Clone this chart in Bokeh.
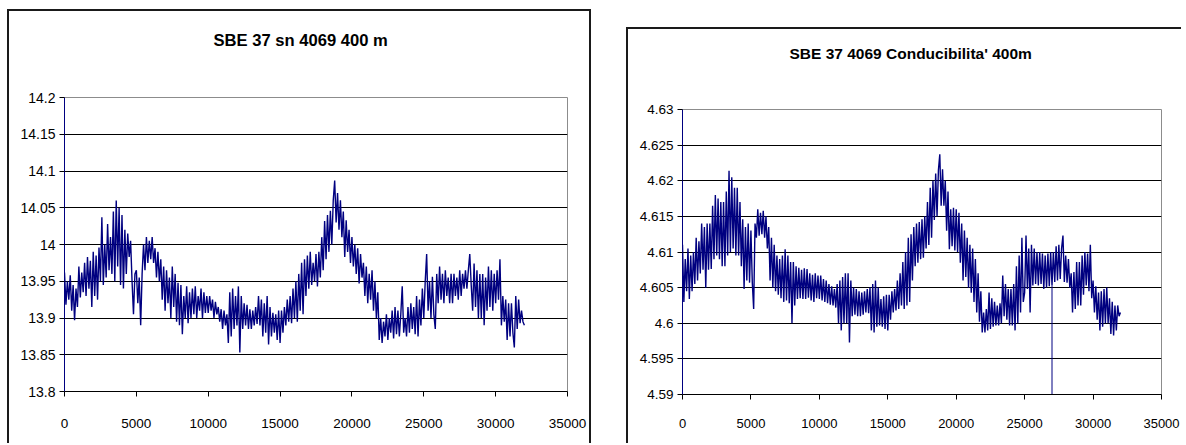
import numpy as np
from bokeh.plotting import figure
from bokeh.layouts import row
from bokeh.models import FixedTicker, Range1d, Title
from bokeh.embed import file_html
from bokeh.resources import INLINE

# Sample number axis: one reading every 100 samples, 0 .. 32000
samples = np.arange(0, 32001, 100)

# Temperature record, SBE 37 sn 4069 at 400 m (one row per 1000 samples)
temperature = [
    13.962, 13.918, 13.950, 13.925, 13.958, 13.910, 13.945, 13.897, 13.940, 13.915,
    13.970, 13.928, 13.962, 13.935, 13.975, 13.930, 13.983, 13.940, 13.978, 13.915,
    13.990, 13.930, 13.985, 13.925, 13.996, 13.950, 14.037, 13.945, 14.000, 13.955,
    14.028, 13.965, 14.010, 13.960, 14.045, 13.950, 14.060, 13.970, 14.050, 13.945,
    14.040, 13.940, 14.020, 13.960, 14.015, 13.983, 14.005, 13.950, 13.905, 13.960,
    13.965, 13.920, 13.955, 13.890, 13.960, 14.000, 13.965, 14.010, 13.975, 14.005,
    13.980, 14.010, 13.975, 13.995, 13.955, 13.990, 13.950, 13.980, 13.925, 13.970,
    13.910, 13.965, 13.920, 13.955, 13.900, 13.970, 13.915, 13.960, 13.895, 13.948,
    13.890, 13.945, 13.878, 13.930, 13.900, 13.943, 13.893, 13.935, 13.900, 13.940,
    13.905, 13.943, 13.900, 13.930, 13.910, 13.940, 13.900, 13.935, 13.907, 13.930,
    13.907, 13.930, 13.910, 13.925, 13.900, 13.922, 13.905, 13.915, 13.895, 13.912,
    13.885, 13.910, 13.890, 13.905, 13.866, 13.935, 13.875, 13.940, 13.885, 13.930,
    13.890, 13.943, 13.853, 13.930, 13.885, 13.920, 13.890, 13.918, 13.885, 13.912,
    13.885, 13.910, 13.890, 13.915, 13.892, 13.930, 13.890, 13.925, 13.875, 13.920,
    13.880, 13.930, 13.864, 13.915, 13.875, 13.907, 13.880, 13.905, 13.870, 13.910,
    13.866, 13.910, 13.880, 13.915, 13.890, 13.925, 13.895, 13.930, 13.893, 13.940,
    13.900, 13.950, 13.895, 13.960, 13.910, 13.975, 13.905, 13.980, 13.930, 13.985,
    13.940, 13.990, 13.945, 13.975, 13.950, 13.987, 13.943, 13.990, 13.955, 14.010,
    13.965, 14.032, 13.980, 14.040, 13.990, 14.046, 14.000, 14.060, 14.087, 14.030,
    14.070, 14.020, 14.060, 14.010, 14.045, 13.983, 14.033, 13.990, 14.020, 13.975,
    14.010, 13.970, 14.000, 13.960, 13.995, 13.947, 13.987, 13.955, 13.975, 13.930,
    13.970, 13.920, 13.960, 13.925, 13.965, 13.910, 13.950, 13.900, 13.935, 13.870,
    13.900, 13.866, 13.895, 13.875, 13.905, 13.870, 13.900, 13.880, 13.910, 13.872,
    13.915, 13.878, 13.910, 13.875, 13.905, 13.943, 13.880, 13.900, 13.875, 13.915,
    13.880, 13.920, 13.885, 13.915, 13.878, 13.930, 13.875, 13.925, 13.890, 13.940,
    13.900, 13.950, 13.987, 13.910, 13.950, 13.900, 13.956, 13.905, 13.885, 13.960,
    13.920, 13.970, 13.925, 13.960, 13.920, 13.965, 13.930, 13.955, 13.920, 13.960,
    13.920, 13.960, 13.930, 13.955, 13.925, 13.965, 13.930, 13.960, 13.940, 13.965,
    13.940, 13.965, 13.987, 13.945, 13.910, 13.974, 13.915, 13.965, 13.900, 13.960,
    13.900, 13.960, 13.890, 13.955, 13.910, 13.970, 13.915, 13.965, 13.910, 13.960,
    13.920, 13.965, 13.925, 13.980, 13.890, 13.930, 13.895, 13.925, 13.870, 13.920,
    13.875, 13.920, 13.880, 13.860, 13.930, 13.885, 13.925, 13.893, 13.910, 13.895,
    13.890,
]

# Conductivity record, same instrument (one row per 1000 samples)
conductivity = [
    4.6110, 4.6030, 4.6090, 4.6045, 4.6105, 4.6034, 4.6095, 4.6045, 4.6100, 4.6055,
    4.6120, 4.6060, 4.6115, 4.6070, 4.6140, 4.6075, 4.6135, 4.6050, 4.6140, 4.6075,
    4.6140, 4.6076, 4.6165, 4.6090, 4.6180, 4.6095, 4.6175, 4.6090, 4.6170, 4.6080,
    4.6170, 4.6080, 4.6185, 4.6095, 4.6214, 4.6100, 4.6205, 4.6105, 4.6190, 4.6095,
    4.6190, 4.6095, 4.6170, 4.6080, 4.6146, 4.6048, 4.6135, 4.6060, 4.6140, 4.6057,
    4.6130, 4.6057, 4.6020, 4.6140, 4.6120, 4.6160, 4.6123, 4.6155, 4.6125, 4.6158,
    4.6120, 4.6150, 4.6105, 4.6135, 4.6060, 4.6120, 4.6050, 4.6110, 4.6045, 4.6095,
    4.6040, 4.6090, 4.6035, 4.6095, 4.6030, 4.6104, 4.6032, 4.6095, 4.6028, 4.6086,
    4.6000, 4.6086, 4.6025, 4.6080, 4.6034, 4.6078, 4.6035, 4.6075, 4.6034, 4.6077,
    4.6034, 4.6076, 4.6036, 4.6070, 4.6032, 4.6068, 4.6030, 4.6070, 4.6035, 4.6067,
    4.6034, 4.6067, 4.6032, 4.6062, 4.6030, 4.6060, 4.6028, 4.6055, 4.6026, 4.6052,
    4.6025, 4.6048, 4.6022, 4.6055, 4.6000, 4.6060, 4.5990, 4.6065, 4.6000, 4.6070,
    4.6000, 4.6070, 4.5973, 4.6060, 4.6010, 4.6050, 4.6012, 4.6048, 4.6010, 4.6045,
    4.6010, 4.6043, 4.6012, 4.6045, 4.6015, 4.6048, 4.6014, 4.6050, 4.5990, 4.6055,
    4.5987, 4.6060, 4.5995, 4.6050, 4.5997, 4.6034, 4.5995, 4.6038, 4.5992, 4.6040,
    4.5990, 4.6040, 4.6005, 4.6045, 4.6015, 4.6048, 4.6018, 4.6060, 4.6020, 4.6070,
    4.6025, 4.6086, 4.6020, 4.6100, 4.6025, 4.6120, 4.6030, 4.6125, 4.6060, 4.6135,
    4.6080, 4.6140, 4.6085, 4.6142, 4.6090, 4.6146, 4.6092, 4.6150, 4.6105, 4.6170,
    4.6110, 4.6190, 4.6120, 4.6200, 4.6145, 4.6210, 4.6150, 4.6215, 4.6237, 4.6165,
    4.6216, 4.6165, 4.6200, 4.6130, 4.6185, 4.6104, 4.6160, 4.6108, 4.6162, 4.6102,
    4.6160, 4.6100, 4.6155, 4.6085, 4.6140, 4.6060, 4.6130, 4.6065, 4.6120, 4.6050,
    4.6110, 4.6043, 4.6105, 4.6030, 4.6090, 4.6015, 4.6070, 4.6002, 4.6045, 4.5987,
    4.6015, 4.5987, 4.6020, 4.5990, 4.6043, 4.5992, 4.6035, 4.5995, 4.6030, 4.5997,
    4.6025, 4.5997, 4.6028, 4.6000, 4.6067, 4.6010, 4.6055, 4.6005, 4.6048, 4.5997,
    4.6048, 4.5997, 4.6055, 4.5990, 4.6080, 4.6000, 4.6095, 4.6015, 4.6120, 4.6030,
    4.6043, 4.6123, 4.6048, 4.6105, 4.6015, 4.6110, 4.6053, 4.6105, 4.6055, 4.6100,
    4.6053, 4.6100, 4.6055, 4.6098, 4.6048, 4.6095, 4.6050, 4.6098, 4.6052, 4.6100,
    4.6053, 4.6100, 4.6058, 4.6108, 4.6060, 4.6110, 4.6062, 4.6105, 4.6123, 4.6058,
    4.6095, 4.6057, 4.6090, 4.6050, 4.6070, 4.6015, 4.6072, 4.6020, 4.6086, 4.6025,
    4.6086, 4.6025, 4.6095, 4.6040, 4.6100, 4.6053, 4.6098, 4.6045, 4.6110, 4.6035,
    4.6060, 4.6015, 4.6052, 4.6005, 4.6043, 4.5990, 4.6045, 4.5995, 4.6048, 4.6000,
    4.6050, 4.6000, 4.6035, 4.5985, 4.6030, 4.5983, 4.6025, 4.5990, 4.6025, 4.6010,
    4.6015,
]

# Single dropout reading in the conductivity record
dropout_sample = [27000, 27000]
dropout_value = [4.6053, 4.5900]

x_ticks = [0, 5000, 10000, 15000, 20000, 25000, 30000, 35000]
temp_ticks = [13.8, 13.85, 13.9, 13.95, 14.0, 14.05, 14.1, 14.15, 14.2]
temp_tick_labels = ["13.8", "13.85", "13.9", "13.95", "14", "14.05", "14.1", "14.15", "14.2"]
cond_ticks = [4.59, 4.595, 4.6, 4.605, 4.61, 4.615, 4.62, 4.625, 4.63]
cond_tick_labels = ["4.59", "4.595", "4.6", "4.605", "4.61", "4.615", "4.62", "4.625", "4.63"]

FONT = "Liberation Sans"
NAVY = "#000080"


def panel(title, width, height, borders, y_range, y_ticks, y_labels,
          title_size, title_offset, title_gap, x_tick_size, y_tick_size,
          x_label_standoff, sides):
    left, right, top, bottom = borders
    p = figure(width=width, height=height, output_backend="svg", toolbar_location=None,
               x_range=Range1d(0, 35000), y_range=Range1d(*y_range),
               min_border_left=left, min_border_right=right,
               min_border_top=top, min_border_bottom=bottom,
               title=title)
    # each chart keeps its own plot-area margins inside the row
    p.frame_align = False

    p.title.text_font = FONT
    p.title.text_font_size = title_size
    p.title.text_font_style = "bold"
    p.title.align = "left"
    p.title.offset = title_offset
    p.title.standoff = 0
    p.title.text_color = "#000000"
    # blank band between the chart title and the plot area
    p.add_layout(Title(text=" ", text_font_size="1px", standoff=title_gap), "above")

    p.background_fill_color = "white"
    p.border_fill_color = "white"
    p.outline_line_color = "#8c8c8c"
    p.outline_line_width = 1

    p.xgrid.visible = False
    p.ygrid.ticker = FixedTicker(ticks=y_ticks)
    p.ygrid.grid_line_color = "#000000"
    p.ygrid.grid_line_width = 1

    p.xaxis.ticker = FixedTicker(ticks=x_ticks)
    p.xaxis.formatter.use_scientific = False
    p.yaxis.ticker = FixedTicker(ticks=y_ticks)
    p.yaxis.major_label_overrides = {t: s for t, s in zip(y_ticks, y_labels)}

    for ax, size in ((p.xaxis[0], x_tick_size), (p.yaxis[0], y_tick_size)):
        ax.major_tick_in = 0
        ax.major_tick_out = 5
        ax.minor_tick_line_color = None
        ax.major_tick_line_color = "#000000"
        ax.major_label_text_font = FONT
        ax.major_label_text_font_size = size
        ax.major_label_text_color = "#000000"
    p.xaxis.axis_line_color = "#000000"
    p.yaxis.axis_line_color = NAVY
    p.xaxis.major_label_standoff = x_label_standoff
    p.yaxis.major_label_standoff = 4

    p.styles = {s: "2px solid #1a1a1a" for s in sides}
    return p


p1 = panel("SBE 37 sn 4069 400 m", 584, 434, (55, 26, 86, 54),
           (13.8, 14.2), temp_ticks, temp_tick_labels, "16.6px", 149, 45,
           "13.5px", "14px", 22,
           ["border-top", "border-left", "border-right"])
p1.line(samples, temperature, line_color=NAVY, line_width=1.4)
p1.margin = (9, 0, 0, 7)

p2 = panel("SBE 37 4069 Conducibilita' 400m", 555, 416, (54, 22, 80, 51),
           (4.59, 4.63), cond_ticks, cond_tick_labels, "15.5px", 107, 45,
           "13px", "13.5px", 19,
           ["border-top", "border-left"])
p2.line(samples, conductivity, line_color=NAVY, line_width=1.4)
p2.line(dropout_sample, dropout_value, line_color=NAVY, line_width=1)
p2.margin = (27, 0, 0, 35)

layout = row(p1, p2)
open("out.html", "w").write(file_html(layout, INLINE))
